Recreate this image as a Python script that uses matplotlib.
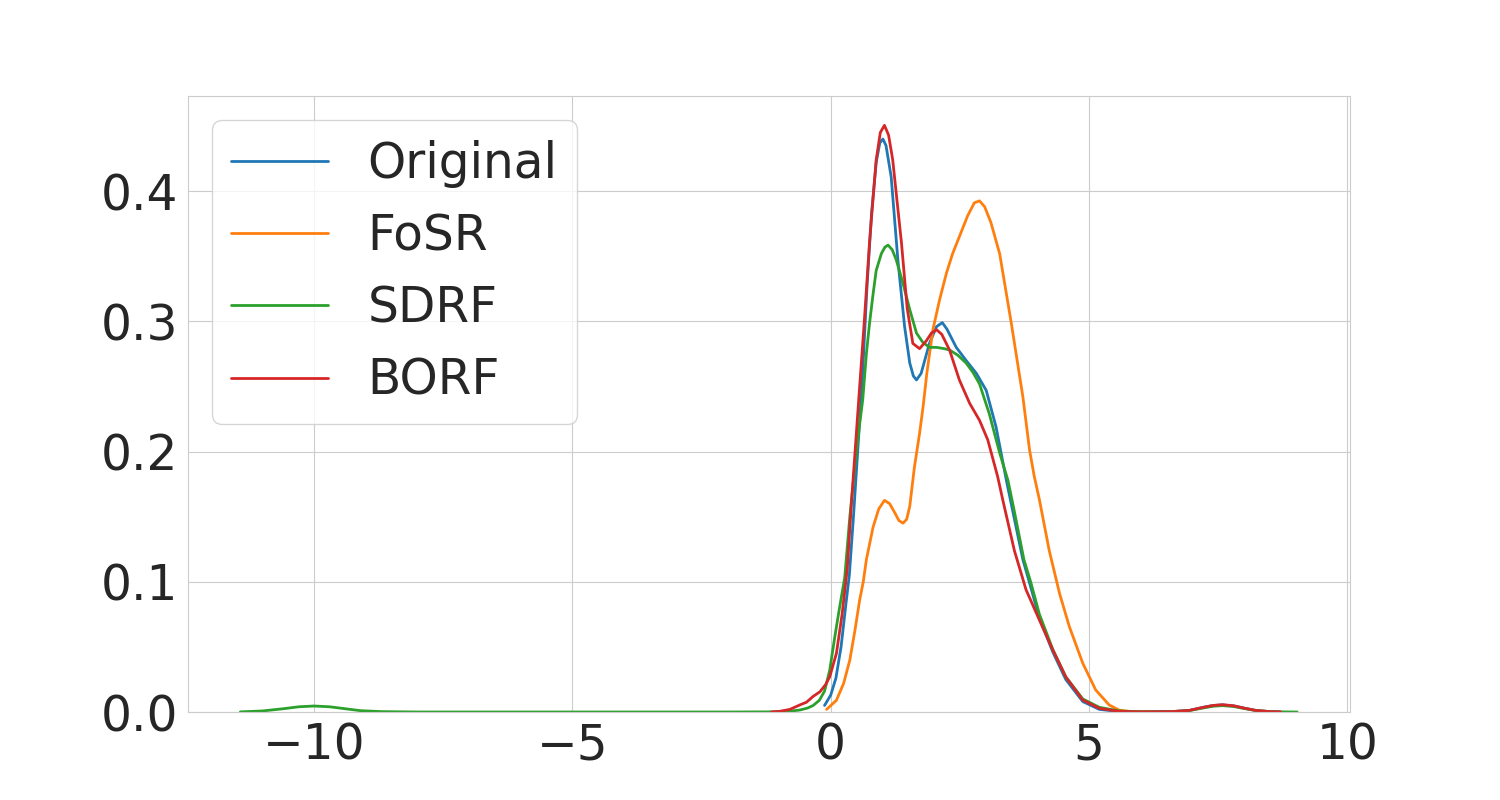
import matplotlib
matplotlib.use("Agg")
import matplotlib.pyplot as plt
import seaborn as sns

# Curve samples (x, density)
orig_x = [-0.12, 0.0, 0.1, 0.2, 0.3, 0.36, 0.44, 0.53, 0.61, 0.70, 0.79, 0.88, 0.95, 1.01, 1.07,
          1.17, 1.30, 1.43, 1.53, 1.60, 1.66, 1.75, 1.91, 2.05, 2.16, 2.25, 2.43, 2.62, 2.82,
          3.01, 3.20, 3.40, 3.52, 3.72, 3.85, 4.04, 4.30, 4.55, 4.88, 5.20, 5.58, 6.0, 6.6,
          6.94, 7.2, 7.4, 7.58, 7.8, 8.0, 8.23, 8.5, 8.7]
orig_y = [0.005, 0.013, 0.026, 0.050, 0.085, 0.105, 0.150, 0.205, 0.255, 0.325, 0.383, 0.422,
          0.437, 0.440, 0.435, 0.411, 0.347, 0.296, 0.268, 0.258, 0.255, 0.260, 0.283, 0.296,
          0.299, 0.294, 0.280, 0.270, 0.260, 0.247, 0.219, 0.178, 0.155, 0.117, 0.099, 0.072,
          0.046, 0.025, 0.008, 0.002, 0.0004, 0.0001, 0.0003, 0.0012, 0.0035, 0.005, 0.0055,
          0.0047, 0.003, 0.0012, 0.0003, 0.0001]

fosr_x = [-0.08, 0.11, 0.25, 0.37, 0.47, 0.56, 0.63, 0.69, 0.82, 0.93, 1.04, 1.14, 1.24, 1.32,
          1.40, 1.47, 1.53, 1.62, 1.72, 1.79, 1.86, 1.98, 2.11, 2.24, 2.36, 2.50, 2.65, 2.78,
          2.88, 2.98, 3.10, 3.27, 3.49, 3.72, 3.85, 3.94, 4.04, 4.23, 4.43, 4.62, 4.88, 5.13,
          5.39, 5.58, 5.8, 6.0, 6.2]
fosr_y = [0.002, 0.009, 0.022, 0.040, 0.063, 0.086, 0.100, 0.117, 0.142, 0.156, 0.1625, 0.160,
          0.153, 0.147, 0.145, 0.148, 0.158, 0.188, 0.214, 0.235, 0.260, 0.294, 0.317, 0.337,
          0.352, 0.366, 0.381, 0.391, 0.3925, 0.388, 0.376, 0.352, 0.300, 0.242, 0.201, 0.181,
          0.163, 0.124, 0.091, 0.0655, 0.0374, 0.0169, 0.0054, 0.0015, 0.0003, 0.0001, 0.0]

sdrf_x = [-11.43, -11.0, -10.6, -10.3, -10.0, -9.7, -9.4, -9.1, -8.7, -8.0, -6.0, -4.0, -2.0,
          -1.2, -0.8, -0.6, -0.45, -0.34, -0.22, -0.12, -0.02, 0.08, 0.17, 0.27, 0.37, 0.47,
          0.55, 0.62, 0.69, 0.75, 0.82, 0.88, 0.98, 1.05, 1.11, 1.19, 1.27, 1.40, 1.53, 1.66,
          1.78, 1.91, 2.05, 2.20, 2.30, 2.46, 2.62, 2.75, 2.88, 3.07, 3.27, 3.43, 3.55, 3.74,
          3.87, 4.04, 4.30, 4.55, 4.88, 5.20, 5.58, 6.0, 6.6, 6.94, 7.2, 7.4, 7.58, 7.8, 8.0,
          8.23, 8.5, 8.75, 9.03]
sdrf_y = [0.0001, 0.0008, 0.0025, 0.004, 0.0046, 0.004, 0.0025, 0.001, 0.0003, 0.0, 0.0, 0.0,
          0.0, 0.0001, 0.0006, 0.0015, 0.003, 0.005, 0.009, 0.016, 0.032, 0.058, 0.080, 0.103,
          0.150, 0.190, 0.218, 0.240, 0.275, 0.298, 0.321, 0.339, 0.352, 0.357, 0.3585, 0.355,
          0.347, 0.329, 0.309, 0.291, 0.284, 0.280, 0.280, 0.279, 0.278, 0.274, 0.268, 0.261,
          0.252, 0.229, 0.199, 0.178, 0.155, 0.117, 0.100, 0.075, 0.048, 0.027, 0.010, 0.0036,
          0.0008, 0.0002, 0.0003, 0.0011, 0.003, 0.0044, 0.0049, 0.0042, 0.0027, 0.0011,
          0.0003, 0.0001, 0.0]

borf_x = [-1.15, -0.99, -0.79, -0.60, -0.47, -0.34, -0.21, -0.10, -0.02, 0.11, 0.22, 0.32, 0.40,
          0.48, 0.56, 0.65, 0.75, 0.88, 0.96, 1.04, 1.12, 1.20, 1.37, 1.48, 1.59, 1.72, 1.85,
          1.95, 2.05, 2.15, 2.30, 2.49, 2.69, 2.88, 3.04, 3.23, 3.33, 3.555, 3.78, 4.04, 4.30,
          4.55, 4.88, 5.20, 5.58, 6.0, 6.6, 6.94, 7.2, 7.4, 7.58, 7.8, 8.0, 8.23, 8.5, 8.71]
borf_y = [0.0, 0.0005, 0.002, 0.0054, 0.0075, 0.012, 0.0155, 0.021, 0.027, 0.045, 0.075, 0.110,
          0.160, 0.205, 0.250, 0.300, 0.360, 0.424, 0.445, 0.4505, 0.443, 0.424, 0.360, 0.310,
          0.283, 0.279, 0.285, 0.291, 0.2935, 0.290, 0.278, 0.255, 0.237, 0.224, 0.209, 0.181,
          0.163, 0.124, 0.094, 0.0706, 0.0476, 0.027, 0.0092, 0.0028, 0.0005, 0.0001, 0.0003,
          0.0012, 0.0035, 0.005, 0.0056, 0.0048, 0.003, 0.0012, 0.0003, 0.0001]

series = [("Original", orig_x, orig_y), ("FoSR", fosr_x, fosr_y),
          ("SDRF", sdrf_x, sdrf_y), ("BORF", borf_x, borf_y)]
colors = ["#1f77b4", "#ff7f0e", "#2ca02c", "#d62728"]

sns.set_style("whitegrid")
plt.rcParams['font.family'] = ['DejaVu Sans']

fig, ax = plt.subplots(figsize=(15, 8), dpi=100)
for (name, xs, ys), c in zip(series, colors):
    ax.plot(xs, ys, color=c, lw=2, label=name, solid_joinstyle='round')

ax.set_ylim(bottom=0)
ax.set_xticks([-10, -5, 0, 5, 10])
ax.set_yticks([0.0, 0.1, 0.2, 0.3, 0.4])
ax.tick_params(axis='both', labelsize=35, pad=3)
for s in ax.spines.values():
    s.set_color("#cccccc")
leg = ax.legend(loc="upper left", fontsize=35, frameon=True)
leg.get_frame().set_edgecolor("#cccccc")

fig.savefig("out.png", dpi=100)
